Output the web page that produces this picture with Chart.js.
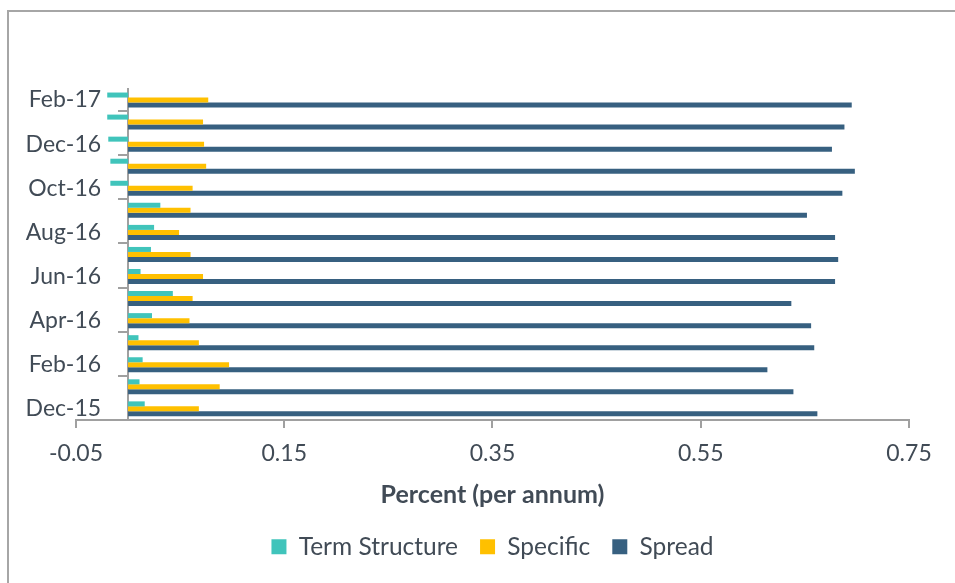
<!DOCTYPE html>
<html>
<head>
<meta charset="utf-8">
<script src="https://cdn.jsdelivr.net/npm/chart.js@4.4.1/dist/chart.umd.min.js"></script>
<style>
    html, body { margin: 0; padding: 0; background: #fff; overflow: hidden; }
    #frame { position: absolute; left: 7px; top: 10px; width: 1000px; height: 700px; border: 2px solid #a6a6a6; box-sizing: border-box; }
    #wrap { position: absolute; left: 0; top: 0; width: 955px; height: 583px; }
</style>
</head>
<body>
<div id="frame"></div>
<div id="wrap"><canvas id="chart"></canvas></div>
<script>
// months, oldest first (drawn bottom to top)
const months = ['Dec-15', 'Jan-16', 'Feb-16', 'Mar-16', 'Apr-16', 'May-16', 'Jun-16', 'Jul-16',
    'Aug-16', 'Sep-16', 'Oct-16', 'Nov-16', 'Dec-16', 'Jan-17', 'Feb-17'];

const termStructure = [0.016, 0.011, 0.014, 0.010, 0.023, 0.043, 0.012, 0.022,
    0.025, 0.031, -0.017, -0.017, -0.019, -0.020, -0.020];
const specific = [0.068, 0.088, 0.097, 0.068, 0.059, 0.062, 0.072, 0.060,
    0.049, 0.060, 0.062, 0.075, 0.073, 0.072, 0.077];
const spread = [0.662, 0.639, 0.614, 0.659, 0.656, 0.637, 0.679, 0.682,
    0.679, 0.652, 0.686, 0.698, 0.676, 0.688, 0.695];

const xTicks = [-0.05, 0.15, 0.35, 0.55, 0.75];

const textColor = '#414b56';
const axisColor = '#a0a0a0';
const font = 'Lato';

// y axis sits at x = 0, so chart.js puts its labels right on the line;
// nudge them left to leave room for the tick marks
const labelGap = 27;
function shiftYLabels(scale) {
    if (scale._shifted) return;
    scale._shifted = true;
    const compute = scale._computeLabelItems.bind(scale);
    scale._computeLabelItems = area => compute(area).map(item => {
        item.options.translation[0] -= labelGap;
        return item;
    });
}

const ctx = document.getElementById('chart').getContext('2d');
new Chart(ctx, {
    type: 'bar',
    data: {
        labels: months,
        datasets: [
            { label: 'Term Structure', data: termStructure, backgroundColor: '#40c4bb' },
            { label: 'Specific', data: specific, backgroundColor: '#ffc000' },
            { label: 'Spread', data: spread, backgroundColor: '#376080' }
        ]
    },
    options: {
        indexAxis: 'y',
        responsive: true,
        maintainAspectRatio: false,
        animation: false,
        categoryPercentage: 0.68,
        barPercentage: 1,
        layout: { padding: { left: 76, right: 46, top: 89, bottom: 14 } },
        scales: {
            x: {
                min: xTicks[0],
                max: xTicks[xTicks.length - 1],
                afterBuildTicks: axis => { axis.ticks = xTicks.map(v => ({ value: v })); },
                grid: { drawOnChartArea: false, tickLength: 8, color: axisColor, lineWidth: 2 },
                border: { display: true, color: axisColor, width: 2 },
                ticks: {
                    color: textColor,
                    font: { family: font, size: 23 },
                    padding: 12,
                    callback: v => v.toFixed(2)
                },
                title: {
                    display: true,
                    text: 'Percent (per annum)',
                    color: textColor,
                    font: { family: font, size: 25, weight: 'bold' },
                    padding: { top: 0, bottom: 3 }
                }
            },
            y: {
                reverse: true,
                position: { x: 0 },
                afterUpdate: shiftYLabels,
                grid: {
                    drawOnChartArea: false,
                    tickLength: 9,
                    lineWidth: 2,
                    color: c => (c.index !== undefined && c.index % 2 === 0) ? axisColor : 'rgba(0,0,0,0)'
                },
                border: { display: true, color: axisColor, width: 2 },
                ticks: {
                    autoSkip: false,
                    color: textColor,
                    font: { family: font, size: 23 },
                    callback: function (v, i) { return i % 2 === 0 ? this.getLabelForValue(v) : ''; }
                }
            }
        },
        plugins: {
            legend: {
                position: 'bottom',
                labels: {
                    color: textColor,
                    font: { family: font, size: 24.5 },
                    boxWidth: 15,
                    boxHeight: 15,
                    padding: 22
                }
            },
            tooltip: { enabled: false }
        }
    }
});
</script>
</body>
</html>
